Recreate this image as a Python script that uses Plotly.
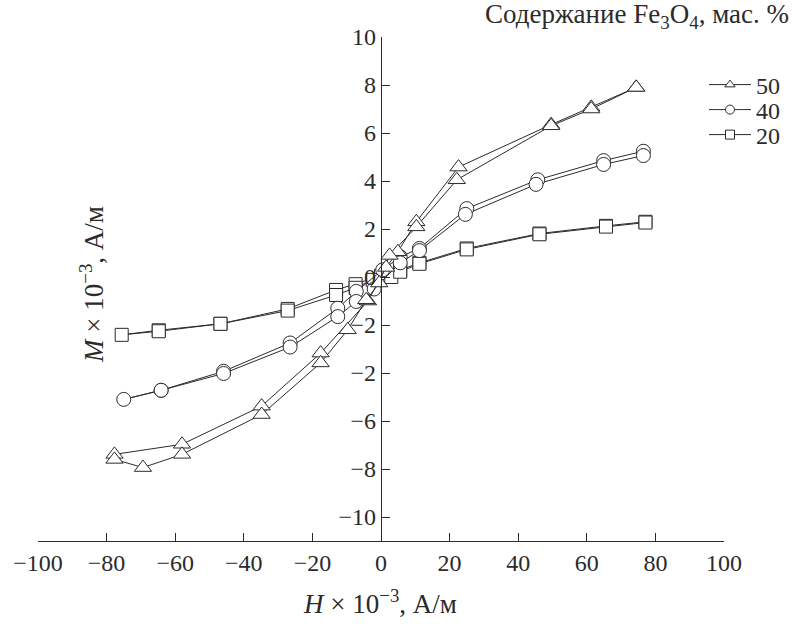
import plotly.graph_objects as go

# ---- data (H x 1e-3, A/m ; M x 1e-3, A/m) ----
# 50 mass %  (loop: descending branch then ascending branch)
h50 = [74.4, 61.3, 49.6, 22.6, 10.3, 4.9, 1.5, -3.8, -17.6, -34.8, -58.0, -77.7,
       -77.7, -69.4, -58.0, -34.8, -17.6, -9.7, -4.3, -0.5, 2.5, 10.3, 22.1, 49.6, 61.3, 74.4]
m50 = [7.9, 7.07, 6.35, 4.58, 2.3, 1.05, 0.4, -1.0, -3.17, -5.38, -6.97, -7.39,
       -7.6, -7.94, -7.39, -5.73, -3.58, -2.2, -0.95, -0.25, 0.9, 2.09, 4.05, 6.3, 7.0, 7.9]

# 40 mass %
h40 = [76.5, 64.9, 45.7, 25.0, 11.2, 5.6, 0.5, -7.2, -12.6, -26.5, -45.9, -64.1, -75.0,
       -64.1, -45.9, -26.5, -12.6, -7.2, -2.0, 5.6, 11.2, 24.6, 45.2, 64.9, 76.5]
m40 = [5.24, 4.85, 4.05, 2.85, 1.19, 0.84, 0.3, -0.6, -1.3, -2.75, -3.93, -4.72, -5.1,
       -4.72, -4.02, -2.92, -1.65, -1.02, -0.5, 0.59, 1.1, 2.61, 3.86, 4.69, 5.06]

# 20 mass %
h20 = [77.1, 65.6, 46.2, 25.0, 11.2, 5.6, 0.0, -7.4, -13.1, -27.2, -46.8, -64.8, -75.6,
       -64.8, -46.8, -27.2, -13.1, -7.4, -2.4, 3.0, 5.6, 11.2, 25.0, 46.2, 65.6, 77.1]
m20 = [2.3, 2.13, 1.81, 1.19, 0.59, 0.29, 0.05, -0.3, -0.54, -1.33, -1.95, -2.22, -2.41,
       -2.26, -1.95, -1.4, -0.75, -0.45, -0.12, 0.0, 0.22, 0.55, 1.15, 1.78, 2.1, 2.27]

series_names = ["50", "40", "20"]
symbols = ["triangle-up", "circle", "square"]

y_tickvals = [-10, -8, -6, -4, -2, 0, 2, 4, 6, 8, 10]
y_ticktext = ["−10", "−8", "−6", "−2", "−2", "0", "2", "4", "6", "8", "10"]
x_tickvals = [-100, -80, -60, -40, -20, 0, 20, 40, 60, 80, 100]
x_ticktext = ["−100", "−80", "−60", "−40", "−20", "0", "20", "40", "60", "80", "100"]

FONT = "Liberation Serif"
INK = "#2b2b2b"
FS = 24
TFS = 27

fig = go.Figure()
for hx, my, sym, sz in [(h20, m20, "square", 13), (h40, m40, "circle", 14), (h50, m50, "triangle-up", 15)]:
    fig.add_trace(go.Scatter(
        x=hx, y=my, mode="lines+markers", showlegend=False,
        line=dict(color=INK, width=1),
        marker=dict(symbol=sym, size=sz, color="white", line=dict(color=INK, width=1)),
        hoverinfo="skip"))

legend_ids = ["legend", "legend2", "legend3"]
for name, sym, lid in zip(series_names, symbols, legend_ids):
    fig.add_trace(go.Scatter(
        x=[None], y=[None], mode="lines+markers", name=name, legend=lid,
        line=dict(color=INK, width=1),
        marker=dict(symbol=sym, size=9, color="white", line=dict(color=INK, width=1))))

# legend item pixel centres in the 803x624 page
leg_rows_px = [85, 110, 135]
plot_top, plot_bot, plot_left, plot_w = 37, 541, 38, 686
legend_common = dict(xanchor="left", yanchor="middle", bgcolor="rgba(0,0,0,0)",
                     font=dict(family=FONT, size=FS, color=INK), borderwidth=0, itemwidth=42)
legends = {}
for lid, ypx in zip(legend_ids, leg_rows_px):
    legends[lid] = dict(x=(704 - plot_left) / plot_w, y=(plot_bot - ypx) / (plot_bot - plot_top),
                        **legend_common)

fig.update_layout(
    width=803, height=624,
    margin=dict(l=38, r=79, t=37, b=83, autoexpand=False),
    paper_bgcolor="white", plot_bgcolor="white",
    font=dict(family=FONT, size=FS, color=INK),
    showlegend=True,
    **legends,
    xaxis=dict(range=[-100, 100], showgrid=False, zeroline=False,
               showline=True, linecolor=INK, linewidth=1.3,
               ticks="inside", ticklen=8, tickcolor=INK, tickwidth=1.3,
               tickvals=x_tickvals, ticktext=x_ticktext,
               tickfont=dict(family=FONT, size=FS, color=INK)),
    yaxis=dict(range=[-11, 10], showgrid=False, zeroline=False,
               anchor="free", position=0.5,
               showline=True, linecolor=INK, linewidth=1.3,
               ticks="inside", ticklen=8, tickcolor=INK, tickwidth=1.3,
               tickvals=y_tickvals, ticktext=y_ticktext,
               tickfont=dict(family=FONT, size=FS, color=INK)),
    annotations=[
        dict(text="Содержание Fe<sub>3</sub>O<sub>4</sub>, мас. %", xref="paper", yref="paper",
             x=(791 - plot_left) / plot_w, y=(plot_bot - 16) / (plot_bot - plot_top),
             xanchor="right", yanchor="middle", showarrow=False,
             font=dict(family=FONT, size=TFS, color=INK)),
        dict(text="<i>M</i> × 10<sup>−3</sup>, А/м", xref="paper", yref="paper",
             x=(92 - plot_left) / plot_w, y=(plot_bot - 285) / (plot_bot - plot_top),
             xanchor="center", yanchor="middle",
             textangle=-90, showarrow=False, font=dict(family=FONT, size=TFS, color=INK)),
        dict(text="<i>H</i> × 10<sup>−3</sup>, А/м", xref="paper", yref="paper",
             x=(380 - plot_left) / plot_w, y=(plot_bot - 602) / (plot_bot - plot_top),
             xanchor="center", yanchor="middle",
             showarrow=False, font=dict(family=FONT, size=TFS, color=INK)),
    ],
)

fig.write_html("out.html",
               config={"displayModeBar": False},
               post_script="document.body.style.margin='0';document.body.style.padding='0';")
